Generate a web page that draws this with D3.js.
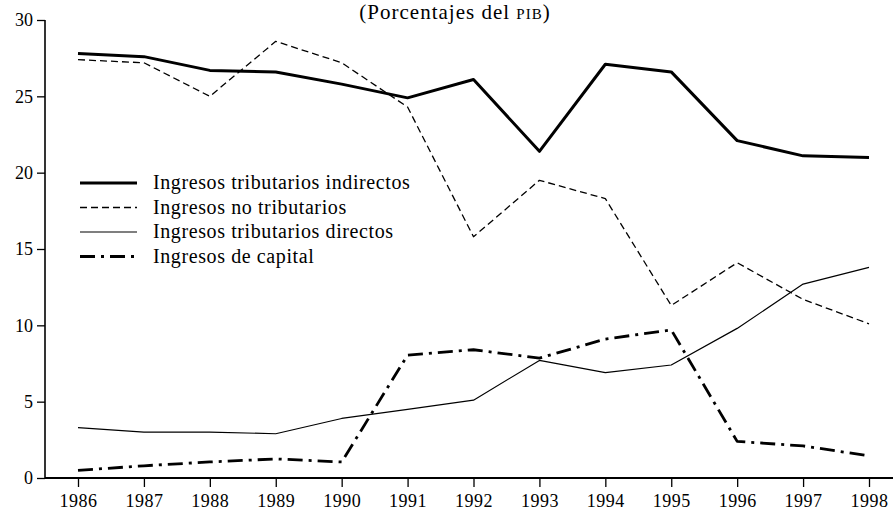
<!DOCTYPE html>
<html>
<head>
<meta charset="utf-8">
<script src="https://cdn.jsdelivr.net/npm/d3@7"></script>
<style>
  body { margin: 0; background: #fff; }
  svg { display: block; font-family: "Liberation Serif", "DejaVu Serif", serif; }
  svg text { font-family: "Liberation Serif", "DejaVu Serif", serif; }
</style>
</head>
<body>
<div id="chart"></div>
<script>
const years = [1986, 1987, 1988, 1989, 1990, 1991, 1992, 1993, 1994, 1995, 1996, 1997, 1998];
const indirectos = [27.8, 27.6, 26.7, 26.6, 25.8, 24.9, 26.1, 21.4, 27.1, 26.6, 22.1, 21.1, 21.0];
const noTributarios = [27.4, 27.2, 25.0, 28.6, 27.2, 24.3, 15.8, 19.5, 18.3, 11.3, 14.1, 11.7, 10.1];
const directos = [3.3, 3.0, 3.0, 2.9, 3.9, 4.5, 5.1, 7.7, 6.9, 7.4, 9.8, 12.7, 13.8];
const capital = [0.5, 0.8, 1.05, 1.25, 1.05, 8.05, 8.4, 7.85, 9.1, 9.7, 2.4, 2.1, 1.45];
const yTicks = [0, 5, 10, 15, 20, 25, 30];
const seriesNames = [
    'Ingresos tributarios indirectos',
    'Ingresos no tributarios',
    'Ingresos tributarios directos',
    'Ingresos de capital'
];

const width = 896, height = 513;

const styles = [
    { width: 3, dash: null },
    { width: 1.3, dash: '7,4' },
    { width: 1.2, dash: null },
    { width: 2.8, dash: '15,6,3,6' }
];

const series = [indirectos, noTributarios, directos, capital].map((vals, i) => ({
    name: seriesNames[i],
    style: styles[i],
    values: vals.map((v, j) => ({ year: years[j], value: v }))
}));

const svg = d3.select('#chart')
    .append('svg')
    .attr('width', width)
    .attr('height', height);

const x = d3.scaleLinear()
    .domain([1986, 1998])
    .range([78, 869]);

const y = d3.scaleLinear()
    .domain([0, 30])
    .range([478, 20]);

// Title
const title = svg.append('text')
    .attr('x', 455)
    .attr('y', 19)
    .attr('text-anchor', 'middle')
    .style('font-size', '21px')
    .style('letter-spacing', '1px')
    .text('(Porcentajes del ');
title.append('tspan').style('font-size', '15px').text('PIB');
title.append('tspan').text(')');

// Y axis
const yAxis = svg.append('g')
    .attr('transform', 'translate(45,0)')
    .call(d3.axisLeft(y).tickValues(yTicks).tickSize(8).tickPadding(4).tickFormat(d3.format('d')));
yAxis.select('.domain').attr('d', `M0,${y(30)}V${y(0)}`).attr('stroke-width', 1.6);
yAxis.selectAll('.tick line').attr('stroke-width', 1.3);
yAxis.selectAll('.tick text').style('font-size', '18px').attr('fill', '#000');

// X axis
const xAxis = svg.append('g')
    .attr('transform', `translate(0,${y(0)})`)
    .call(d3.axisBottom(x).tickValues(years).tickSize(9).tickPadding(7).tickFormat(d3.format('d')));
xAxis.select('.domain').attr('d', 'M45,0H893').attr('stroke-width', 1.8);
xAxis.selectAll('.tick line').attr('stroke-width', 1.3);
xAxis.selectAll('.tick text')
    .style('font-size', '18px')
    .style('letter-spacing', '0.5px')
    .attr('fill', '#000');

// Lines
const line = d3.line()
    .x(d => x(d.year))
    .y(d => y(d.value));

svg.selectAll('.serie')
    .data(series)
    .join('path')
    .attr('class', 'serie')
    .attr('d', d => line(d.values))
    .attr('fill', 'none')
    .attr('stroke', '#000')
    .attr('stroke-width', d => d.style.width)
    .attr('stroke-dasharray', d => d.style.dash)
    .attr('stroke-linejoin', 'round');

// Legend
const legend = svg.append('g').attr('transform', 'translate(80,183)');
const rows = legend.selectAll('g')
    .data(series)
    .join('g')
    .attr('transform', (d, i) => `translate(0,${i * 24.5})`);

rows.append('line')
    .attr('x1', 0)
    .attr('x2', 57)
    .attr('stroke', '#000')
    .attr('stroke-width', d => d.style.width)
    .attr('stroke-dasharray', d => d.style.dash);

rows.append('text')
    .attr('x', 73)
    .attr('y', 6)
    .style('font-size', '20px')
    .style('letter-spacing', '0.6px')
    .text(d => d.name);
</script>
</body>
</html>
